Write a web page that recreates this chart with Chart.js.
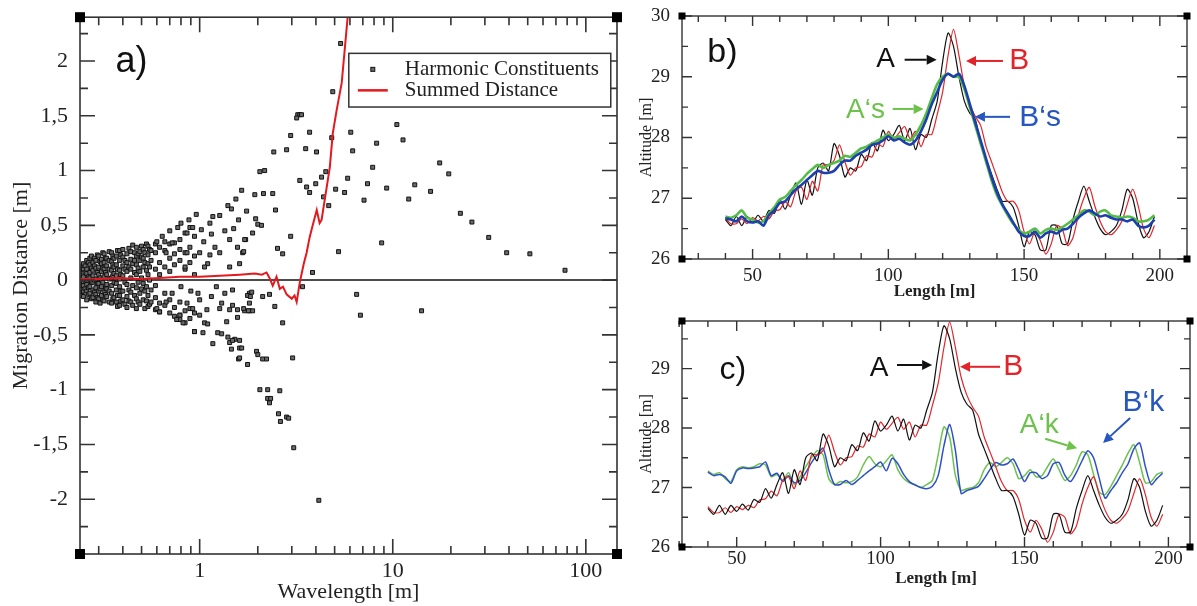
<!DOCTYPE html>
<html>
<head>
<meta charset="utf-8">
<script src="https://cdn.jsdelivr.net/npm/chart.js@4.4.1/dist/chart.umd.min.js"></script>
<style>
  body { margin: 0; background: #fff; overflow: hidden; }
  .panel { position: absolute; }
</style>
</head>
<body>
<div class="panel" style="left:0;top:0"><canvas id="chartA" width="625" height="606"></canvas></div>
<div class="panel" style="left:625px;top:0"><canvas id="chartB" width="572" height="300"></canvas></div>
<div class="panel" style="left:625px;top:300px"><canvas id="chartC" width="572" height="306"></canvas></div>
<script>
// ---- panel a) : harmonic constituents [wavelength m, migration m]
const harmonicPoints = [
  [0.24,0.12],[0.24,0.05],[0.24,-0.02],[0.24,-0.08],[0.24,0.08],[0.24,-0.12],[0.24,0.0],
  [0.245,0.1],[0.245,-0.05],[0.245,0.02],[0.245,-0.14],
  [0.25,0.15],[0.25,0.03],[0.25,-0.05],[0.25,-0.15],[0.25,0.1],[0.25,-0.1],
  [0.255,0.07],[0.255,-0.08],[0.255,0.13],[0.255,-0.01],
  [0.26,0.1],[0.26,0.0],[0.26,-0.1],[0.26,0.06],[0.26,-0.04],[0.26,0.18],[0.26,-0.18],
  [0.265,0.16],[0.265,-0.13],[0.265,0.03],[0.265,-0.07],
  [0.27,0.14],[0.27,-0.06],[0.27,0.02],[0.27,-0.12],[0.27,0.2],[0.27,0.07],
  [0.275,0.11],[0.275,-0.17],[0.275,-0.02],[0.275,0.22],
  [0.28,0.09],[0.28,-0.02],[0.28,-0.16],[0.28,0.16],[0.28,0.04],[0.28,-0.09],
  [0.285,0.2],[0.285,-0.11],[0.285,0.0],[0.285,0.13],
  [0.29,0.18],[0.29,0.01],[0.29,-0.07],[0.29,0.11],[0.29,-0.13],[0.29,-0.2],
  [0.295,0.07],[0.295,-0.16],[0.295,0.23],[0.295,-0.03],
  [0.30,0.12],[0.30,-0.03],[0.30,0.22],[0.30,-0.1],[0.30,0.05],[0.30,-0.17],
  [0.305,0.17],[0.305,-0.08],[0.305,0.02],[0.305,-0.21],
  [0.31,0.15],[0.31,0.0],[0.31,-0.06],[0.31,0.08],[0.31,-0.14],[0.31,0.19],
  [0.315,0.11],[0.315,-0.18],[0.315,0.25],[0.315,-0.02],
  [0.32,0.1],[0.32,-0.11],[0.32,0.03],[0.32,0.24],[0.32,-0.19],[0.32,0.16],
  [0.325,0.07],[0.325,-0.07],[0.325,0.2],[0.325,-0.13],
  [0.33,0.05],[0.33,-0.04],[0.33,0.13],[0.33,-0.15],[0.33,0.2],[0.33,-0.08],
  [0.34,0.18],[0.34,-0.1],[0.34,0.01],[0.34,0.26],[0.34,-0.2],[0.34,0.1],
  [0.35,0.17],[0.35,0.02],[0.35,-0.12],[0.35,0.09],[0.35,-0.21],[0.35,0.25],[0.35,-0.05],
  [0.355,0.14],[0.355,-0.17],[0.355,0.04],[0.355,0.22],
  [0.36,0.12],[0.36,-0.02],[0.36,0.2],[0.36,-0.16],[0.36,0.06],
  [0.37,0.22],[0.37,0.04],[0.37,-0.09],[0.37,0.14],[0.37,-0.2],[0.37,-0.03],
  [0.375,0.27],[0.375,0.1],[0.375,-0.14],[0.375,-0.24],
  [0.385,0.18],[0.385,-0.06],[0.385,0.09],[0.385,0.27],[0.385,-0.14],[0.385,0.01],[0.385,-0.23],
  [0.39,0.23],[0.39,0.05],[0.39,-0.1],[0.39,-0.19],
  [0.40,0.13],[0.40,0.21],[0.40,-0.1],[0.40,0.04],[0.40,-0.18],[0.40,0.28],
  [0.41,0.18],[0.41,-0.02],[0.41,-0.22],[0.41,0.1],
  [0.42,0.24],[0.42,0.08],[0.42,-0.04],[0.42,-0.15],[0.42,0.16],[0.42,-0.25],
  [0.43,0.29],[0.43,0.12],[0.43,-0.09],[0.43,-0.19],
  [0.44,0.19],[0.44,0.02],[0.44,-0.11],[0.44,0.26],[0.44,-0.2],[0.44,0.1],
  [0.45,0.15],[0.45,-0.05],[0.45,0.32],[0.45,-0.23],
  [0.46,0.25],[0.46,0.07],[0.46,-0.14],[0.46,0.18],
  [0.47,0.22],[0.47,-0.07],[0.47,0.14],[0.47,0.3],[0.47,-0.17],[0.47,0.05],[0.47,-0.26],
  [0.48,0.11],[0.48,-0.02],[0.48,0.24],[0.48,-0.2],
  [0.49,0.18],[0.49,0.26],[0.49,-0.12],[0.49,0.08],[0.49,-0.22],
  [0.50,0.21],[0.50,0.02],[0.50,-0.08],[0.50,0.31],
  [0.51,0.12],[0.51,0.28],[0.51,-0.03],[0.51,-0.18],[0.51,0.2],
  [0.52,0.16],[0.52,-0.1],[0.52,0.25],[0.52,-0.26],
  [0.53,0.09],[0.53,-0.06],[0.53,0.33],[0.53,-0.19],
  [0.54,0.23],[0.54,0.05],[0.54,-0.14],[0.54,0.31],[0.54,-0.24],[0.54,0.15],
  [0.55,0.28],[0.55,0.0],[0.55,-0.22],[0.55,0.12],
  [0.56,0.18],[0.56,-0.09],[0.56,0.27],[0.56,-0.2],
  [0.59,0.25],[0.59,0.1],[0.59,-0.16],[0.59,0.33],[0.59,-0.27],[0.59,-0.05],
  [0.62,0.3],[0.62,0.16],[0.62,-0.21],[0.62,0.05],[0.62,-0.29],
  [0.66,0.27],[0.66,-0.12],[0.66,0.35],[0.66,-0.23],[0.66,0.12],
  [0.70,0.33],[0.70,0.2],[0.70,-0.18],[0.70,-0.3],[0.70,0.08],
  [0.74,0.34],[0.74,0.24],[0.74,-0.25],[0.74,-0.33],[0.74,0.14],
  [0.79,0.37],[0.79,0.28],[0.79,-0.2],[0.79,-0.32],[0.79,0.18],[0.79,-0.36],
  [0.84,0.43],[0.84,0.25],[0.84,-0.28],[0.84,-0.39],[0.84,0.1],
  [0.89,0.48],[0.89,0.3],[0.89,-0.26],[0.89,-0.35],[0.89,0.16],
  [0.94,0.4],[0.94,0.22],[0.94,-0.47],[0.94,-0.3],[0.94,0.05],
  [0.6,0.35],[0.64,0.4],[0.7,0.45],[0.77,0.48],[0.8,0.52],[0.88,0.55],[0.96,0.6],
  [1.05,0.35],[1.15,0.42],[1.2,0.3],[1.35,0.45],[1.5,0.47],[1.1,0.15],
  [0.98,-0.12],[1.15,-0.15],[1.35,-0.12],[0.72,-0.12],[0.8,-0.06],[0.9,-0.1],
  [1.02,0.46],[0.92,0.48],[0.86,0.43],[1.13,0.52],[1.27,0.59],[1.17,0.58],[1.40,0.68],
  [1.46,0.65],[1.54,0.74],[1.65,0.82],[1.93,0.78],[2.14,0.79],[2.39,0.79],[2.05,0.99],
  [2.17,1.0],[2.42,1.17],[2.82,1.19],[2.96,1.32],[3.22,1.51],[3.30,1.51],[3.37,1.51],
  [3.18,1.48],[3.71,1.35],[3.54,1.2],[4.03,1.17],[3.30,0.91],[3.58,0.85],[3.71,0.8],
  [3.99,0.88],[2.47,0.64],[1.75,0.63],[1.59,0.55],[1.95,0.56],[2.0,0.51],[2.09,0.5],
  [2.96,0.4],[2.53,0.29],[2.69,0.24],[1.67,0.25],[3.84,0.07],[1.43,0.37],[1.57,0.3],
  [1.73,0.37],[1.13,0.23],[1.0,0.25],[1.27,0.25],[0.86,0.25],[0.67,0.25],[0.72,0.34],
  [1.88,0.43],[1.71,0.37],[1.69,0.26],[0.84,0.12],[1.06,0.12],[1.22,-0.06],[1.48,-0.09],
  [1.81,-0.12],[1.43,0.12],[1.61,0.15],
  [5.37,2.16],[4.89,1.72],[4.83,1.3],[6.06,1.35],[6.2,1.18],[10.5,1.42],[11.3,1.28],
  [8.25,1.25],[7.87,1.03],[7.4,0.88],[7.1,0.73],[9.3,0.84],[13.0,0.87],[12.1,0.74],
  [15.7,0.81],[17.5,1.07],[19.5,0.97],[22.4,0.61],[25.7,0.53],[31.4,0.39],[38.9,0.25],
  [51.3,0.24],[78,0.09],[8.76,0.34],[5.24,0.26],[5.84,0.93],[5.63,0.8],[5.06,0.83],
  [4.5,0.99],[4.28,0.94],[4.38,0.76],[4.66,0.68],[3.41,-0.06],[6.5,-0.13],[6.8,-0.32],
  [14.1,-0.28],[4.14,-2.01],
  [3.07,-1.53],[2.56,-1.22],[2.62,-1.29],[2.82,-1.25],[2.89,-1.26],[2.05,-1.0],[2.25,-1.0],
  [2.6,-1.01],[2.25,-1.08],[2.33,-1.08],[2.3,-1.12],[3.03,-0.71],[1.97,-0.65],[2.0,-0.68],
  [2.12,-0.72],[2.22,-0.72],[1.77,-0.77],[1.59,-0.72],[1.61,-0.62],[1.46,-0.63],[1.52,-0.54],
  [1.61,-0.55],[1.17,-0.58],[0.94,-0.47],[1.04,-0.48],[1.06,-0.39],[1.1,-0.4],[1.24,-0.48],
  [1.3,-0.49],[1.4,-0.52],[1.43,-0.57],[1.48,-0.55],[1.38,-0.38],[1.57,-0.34],[1.57,-0.27],
  [1.71,-0.28],[1.81,-0.28],[2.45,-0.24],[2.69,-0.39],[0.76,-0.36],[0.82,-0.39],[0.79,-0.32],
  [1.0,-0.32],[1.09,-0.27],[1.27,-0.26],[1.43,-0.27],[1.48,-0.23],[1.3,-0.21],[0.86,-0.21],
  [0.92,-0.26],[1.0,-0.18],[0.67,-0.2],[0.6,-0.26],[0.62,-0.29],[1.81,-0.21],[1.77,-0.14],
  [2.12,-0.15],[2.3,-0.13],[1.86,-0.11],[1.83,-0.15],[1.69,-0.26],[1.79,-0.28],[1.88,-0.28],
  [1.65,-0.62],[1.61,-0.71]
];

const summedWavelength = [0.24,0.3,0.38,0.49,0.62,0.79,1.0,1.27,1.61,1.93,2.1,2.22,2.3,2.39,2.5,2.6,2.7,2.82,
  3.0,3.1,3.18,3.3,3.46,3.58,3.71,3.85,4.04,4.18,4.28,4.44,4.72,4.89,5.12,5.44,5.84,6.13];
const summedDistance = [0.01,0.01,0.02,0.01,0.02,0.03,0.03,0.04,0.05,0.06,0.05,0.07,0.02,-0.05,0.03,-0.08,-0.06,-0.13,
  -0.17,-0.14,-0.2,-0.02,0.15,0.25,0.39,0.5,0.64,0.52,0.55,0.73,1.03,1.34,1.55,1.8,2.4,2.7];

const wavelengthTicks = [1, 10, 100];
const wavelengthMinor = [0.3,0.4,0.5,0.6,0.7,0.8,0.9,2,3,4,5,6,7,8,9,20,30,40,50,60,70,80,90];
const migrationTicks = [-2, -1.5, -1, -0.5, 0, 0.5, 1, 1.5, 2];
const migrationMinor = [-2.25,-1.75,-1.25,-0.75,-0.25,0.25,0.75,1.25,1.75,2.25];

// ---- panels b) and c) : altitude profiles along the length
const lengthM = [40,42,44,46,48,50,52,54,56,58,
  60,62,64,66,68,70,72,74,76,78,
  80,82,84,86,88,90,92,94,96,98,
  100,102,104,106,108,110,112,114,116,118,
  120,122,124,126,128,130,132,134,136,138,
  140,142,144,146,148,150,152,154,156,158,
  160,162,164,166,168,170,172,174,176,178,
  180,182,184,186,188,190,192,194,196,198];

const profileA = [26.65,26.55,26.70,26.55,26.70,26.60,26.72,26.62,26.80,26.75,
  26.98,26.82,27.05,27.25,26.90,27.30,27.05,27.50,27.58,27.45,
  27.90,27.70,27.35,27.50,27.45,27.72,27.62,27.92,27.78,28.12,
  27.95,28.05,28.20,27.95,28.15,27.80,28.05,28.00,28.30,28.60,
  29.25,29.72,29.50,29.00,28.60,28.40,28.30,27.90,27.65,27.40,
  27.15,26.95,26.95,26.85,26.55,26.20,26.45,26.40,26.15,26.15,
  26.55,26.55,26.25,26.25,26.65,26.95,27.20,26.95,26.70,26.50,
  26.40,26.45,26.55,26.80,27.15,27.00,26.60,26.35,26.45,26.70];

const profileB = [26.68,26.58,26.58,26.66,26.58,26.68,26.63,26.70,26.66,26.79,
  26.81,26.94,26.86,27.12,27.18,26.98,27.28,27.12,27.55,27.55,
  27.62,27.88,27.60,27.38,27.50,27.52,27.70,27.68,27.90,27.85,
  28.10,27.98,28.08,28.18,27.98,28.10,27.85,28.05,28.05,28.38,
  28.75,29.35,29.78,29.35,28.85,28.55,28.35,28.20,27.85,27.60,
  27.35,27.10,26.95,26.95,26.80,26.45,26.25,26.45,26.30,26.08,
  26.25,26.55,26.50,26.22,26.35,26.72,27.00,27.18,26.88,26.62,
  26.45,26.40,26.48,26.62,26.90,27.15,26.88,26.50,26.35,26.55];

const smoothA = [26.70,26.68,26.72,26.80,26.68,26.65,26.60,26.62,26.75,26.85,
  26.98,27.02,27.12,27.22,27.30,27.40,27.48,27.55,27.50,27.55,
  27.58,27.62,27.70,27.68,27.75,27.82,27.85,27.90,27.95,28.00,
  28.05,28.00,28.02,27.98,27.95,28.05,28.20,28.40,28.65,28.88,
  29.00,29.05,29.00,29.00,28.80,28.50,28.20,27.90,27.60,27.30,
  27.05,26.88,26.72,26.58,26.48,26.42,26.45,26.50,26.42,26.48,
  26.50,26.48,26.52,26.58,26.65,26.72,26.80,26.78,26.72,26.78,
  26.80,26.72,26.70,26.68,26.70,26.68,26.62,26.62,26.65,26.72];

const smoothB = [26.67,26.65,26.62,26.70,26.62,26.60,26.62,26.55,26.72,26.80,
  26.92,26.95,27.05,27.15,27.22,27.30,27.38,27.45,27.42,27.42,
  27.45,27.55,27.62,27.62,27.70,27.75,27.80,27.88,27.90,27.95,
  28.02,27.95,27.98,27.92,27.88,27.95,28.10,28.30,28.55,28.75,
  28.95,29.05,29.00,29.05,28.85,28.55,28.25,27.95,27.65,27.35,
  27.10,26.90,26.75,26.60,26.45,26.38,26.38,26.45,26.35,26.42,
  26.45,26.42,26.48,26.50,26.58,26.68,26.75,26.80,26.75,26.70,
  26.72,26.68,26.65,26.65,26.62,26.65,26.55,26.52,26.55,26.65];

const kineticA = [27.28,27.22,27.25,27.15,27.10,27.30,27.35,27.33,27.35,27.40,
  27.38,27.18,27.22,27.12,27.25,27.05,27.18,27.35,27.50,27.62,
  27.55,27.15,27.05,27.10,27.08,27.10,27.18,27.38,27.52,27.40,
  27.35,27.45,27.55,27.30,27.15,27.08,27.05,27.00,27.05,27.12,
  27.55,28.02,27.85,27.20,26.95,26.98,27.00,27.08,27.30,27.42,
  27.35,27.42,27.50,27.40,27.15,27.20,27.30,27.18,27.20,27.35,
  27.48,27.30,27.12,27.20,27.38,27.60,27.55,27.22,26.92,26.88,
  27.02,27.20,27.38,27.58,27.72,27.42,27.08,27.10,27.22,27.26];

const kineticB = [27.26,27.20,27.22,27.18,27.07,27.28,27.33,27.32,27.33,27.35,
  27.43,27.20,27.24,27.10,27.20,27.08,27.12,27.25,27.42,27.55,
  27.66,27.30,27.05,27.05,27.12,27.05,27.12,27.20,27.28,27.35,
  27.43,27.28,27.49,27.40,27.22,27.10,27.04,27.00,26.98,27.02,
  27.20,27.70,28.06,27.62,26.90,26.95,26.98,27.02,27.15,27.30,
  27.42,27.38,27.40,27.48,27.30,27.10,27.25,27.25,27.15,27.20,
  27.40,27.42,27.21,27.10,27.25,27.45,27.62,27.50,27.15,26.82,
  26.95,27.08,27.25,27.40,27.65,27.75,27.35,27.05,27.15,27.24];

const lengthTicks = [50, 100, 150, 200];
const lengthMinor = [30,40,60,70,80,90,110,120,130,140,160,170,180,190];
const altTicksB = [26, 27, 28, 29, 30];
const altMinorB = [26.5, 27.5, 28.5, 29.5];
const altTicksC = [26, 27, 28, 29];
const altMinorC = [26.5, 27.5, 28.5, 29.5];

// ---- helpers
const SERIF = "'Liberation Serif', 'Times New Roman', serif";
const SANS = "'Liberation Sans', Arial, sans-serif";
const pts = (xs, ys) => xs.map((x, i) => ({ x: x, y: ys[i] }));

function frame(o) {
  return {
    id: 'frame',
    beforeDatasetsDraw(chart) {
      if (!o.zeroLine) return;
      const { ctx, chartArea: ca, scales } = chart;
      const py = scales.y.getPixelForValue(0);
      ctx.save();
      ctx.strokeStyle = '#111';
      ctx.lineWidth = 1.5;
      ctx.beginPath(); ctx.moveTo(ca.left, py); ctx.lineTo(ca.right, py); ctx.stroke();
      ctx.restore();
    },
    afterDraw(chart) {
      const { ctx, chartArea: ca, scales } = chart;
      ctx.save();
      ctx.strokeStyle = '#333';
      ctx.lineWidth = o.width;
      ctx.strokeRect(ca.left, ca.top, ca.right - ca.left, ca.bottom - ca.top);
      ctx.beginPath();
      const xt = (vals, len) => vals.forEach(v => {
        const p = scales.x.getPixelForValue(v);
        ctx.moveTo(p, ca.bottom); ctx.lineTo(p, ca.bottom - len);
        ctx.moveTo(p, ca.top); ctx.lineTo(p, ca.top + len);
      });
      const yt = (vals, len) => vals.forEach(v => {
        const p = scales.y.getPixelForValue(v);
        ctx.moveTo(ca.left, p); ctx.lineTo(ca.left + len, p);
        ctx.moveTo(ca.right, p); ctx.lineTo(ca.right - len, p);
      });
      xt(o.xMajor, o.major); xt(o.xMinor, o.minor);
      yt(o.yMajor, o.major); yt(o.yMinor, o.minor);
      ctx.stroke();
      const s = o.corner;
      ctx.fillStyle = '#000';
      [[ca.left, ca.top], [ca.right, ca.top], [ca.left, ca.bottom], [ca.right, ca.bottom]]
        .forEach(([px, py]) => ctx.fillRect(px - s / 2, py - s / 2, s, s));
      ctx.restore();
    }
  };
}

function arrow(ctx, x1, y1, x2, y2, color) {
  const a = Math.atan2(y2 - y1, x2 - x1), h = 10, w = 5;
  const bx = x2 - h * Math.cos(a), by = y2 - h * Math.sin(a);
  ctx.strokeStyle = color; ctx.fillStyle = color; ctx.lineWidth = 2;
  ctx.beginPath(); ctx.moveTo(x1, y1); ctx.lineTo(bx, by); ctx.stroke();
  ctx.beginPath();
  ctx.moveTo(x2, y2);
  ctx.lineTo(bx + w * Math.sin(a), by - w * Math.cos(a));
  ctx.lineTo(bx - w * Math.sin(a), by + w * Math.cos(a));
  ctx.closePath(); ctx.fill();
}

// labels and arrows placed in data coordinates
function annotate(items) {
  return {
    id: 'notes',
    afterDatasetsDraw(chart) {
      const { ctx, scales: { x, y } } = chart;
      ctx.save();
      items.forEach(it => {
        if (it.text) {
          ctx.font = it.font;
          ctx.fillStyle = it.color;
          ctx.textAlign = 'center';
          ctx.textBaseline = 'middle';
          ctx.fillText(it.text, x.getPixelForValue(it.x), y.getPixelForValue(it.y));
        } else {
          arrow(ctx, x.getPixelForValue(it.x1), y.getPixelForValue(it.y1),
            x.getPixelForValue(it.x2), y.getPixelForValue(it.y2), it.color);
        }
      });
      ctx.restore();
    }
  };
}

const legendA = {
  id: 'legendA',
  afterDraw(chart) {
    const { ctx, scales: { x, y }, data } = chart;
    const left = x.getPixelForValue(5.92), right = x.getPixelForValue(134.6);
    const top = y.getPixelForValue(2.07), bottom = y.getPixelForValue(1.58);
    ctx.save();
    ctx.fillStyle = '#fff';
    ctx.fillRect(left, top, right - left, bottom - top);
    ctx.strokeStyle = '#333'; ctx.lineWidth = 1.5;
    ctx.strokeRect(left, top, right - left, bottom - top);
    const r1 = top + 16, r2 = top + 37;
    const scatter = data.datasets[1], line = data.datasets[0];
    ctx.fillStyle = scatter.backgroundColor; ctx.strokeStyle = scatter.borderColor; ctx.lineWidth = 1;
    ctx.fillRect(left + 22, r1 - 2, 4, 4); ctx.strokeRect(left + 22, r1 - 2, 4, 4);
    ctx.strokeStyle = line.borderColor; ctx.lineWidth = 2.5;
    ctx.beginPath(); ctx.moveTo(left + 9, r2); ctx.lineTo(left + 39, r2); ctx.stroke();
    ctx.fillStyle = '#222'; ctx.font = '21px ' + SERIF; ctx.textBaseline = 'middle';
    ctx.fillText(scatter.label, left + 56, r1);
    ctx.fillText(line.label, left + 56, r2);
    ctx.restore();
  }
};

const setTicks = vals => scale => { scale.ticks = vals.map(v => ({ value: v })); };

// ---- chart a)
new Chart(document.getElementById('chartA'), {
  type: 'scatter',
  data: {
    datasets: [
      { label: 'Summed Distance', data: pts(summedWavelength, summedDistance), showLine: true,
        borderColor: '#e3191f', borderWidth: 2, pointRadius: 0, tension: 0 },
      { label: 'Harmonic Constituents', data: harmonicPoints.map(p => ({ x: p[0], y: p[1] })),
        pointStyle: 'rect', pointRadius: 2.8, backgroundColor: '#6a6a6a', borderColor: '#111', borderWidth: 1 }
    ]
  },
  options: {
    responsive: false, animation: false,
    layout: { padding: { top: 16, right: 8, left: 0, bottom: 0 } },
    plugins: { legend: { display: false }, tooltip: { enabled: false } },
    scales: {
      x: {
        type: 'logarithmic', min: 0.24, max: 145,
        grid: { display: false }, border: { display: false },
        afterBuildTicks: setTicks(wavelengthTicks),
        afterFit: s => { s.height = 52; },
        ticks: { autoSkip: false, maxRotation: 0, padding: -4, color: '#222',
          font: { family: SERIF, size: 22 }, callback: v => String(v) },
        title: { display: true, text: 'Wavelength [m]', color: '#222',
          font: { family: SERIF, size: 22 }, padding: { top: 0, bottom: 1 } }
      },
      y: {
        min: -2.5, max: 2.4,
        grid: { display: false }, border: { display: false },
        afterBuildTicks: setTicks(migrationTicks),
        afterFit: s => { s.width = 80; },
        ticks: { padding: 4, color: '#222', font: { family: SERIF, size: 22 },
          callback: v => String(v).replace('.', ',') },
        title: { display: true, text: 'Migration Distance [m]', color: '#222',
          font: { family: SERIF, size: 22 }, padding: { top: 8, bottom: 0 } }
      }
    }
  },
  plugins: [
    frame({ width: 1.6, major: 15, minor: 8, corner: 10, zeroLine: true,
      xMajor: wavelengthTicks, xMinor: wavelengthMinor, yMajor: migrationTicks, yMinor: migrationMinor }),
    annotate([{ text: 'a)', x: 0.444, y: 1.99, color: '#111', font: '36px ' + SANS }]),
    legendA
  ]
});

// ---- charts b) and c)
function profileChart(id, cfg) {
  return new Chart(document.getElementById(id), {
    type: 'scatter',
    data: { datasets: cfg.datasets },
    options: {
      responsive: false, animation: false,
      layout: { padding: cfg.padding },
      plugins: { legend: { display: false }, tooltip: { enabled: false } },
      elements: { point: { radius: 0 }, line: { tension: 0.25 } },
      scales: {
        x: {
          min: cfg.xMin, max: cfg.xMax,
          grid: { display: false }, border: { display: false },
          afterBuildTicks: setTicks(lengthTicks),
          afterFit: s => { s.height = cfg.xHeight; },
          ticks: { autoSkip: false, maxRotation: 0, padding: cfg.tickPad, color: '#222',
            font: { family: SERIF, size: 19 } },
          title: { display: true, text: 'Length [m]', color: '#222',
            font: { family: SERIF, size: 17, weight: 'bold' }, padding: { top: 0, bottom: cfg.titlePad } }
        },
        y: {
          min: 26, max: cfg.yMax,
          grid: { display: false }, border: { display: false },
          afterBuildTicks: setTicks(cfg.yTicks),
          afterFit: s => { s.width = 57; },
          ticks: { padding: 4, color: '#222', font: { family: SERIF, size: 19 } },
          title: { display: true, text: 'Altitude [m]', color: '#222',
            font: { family: SERIF, size: 16 }, padding: { top: 12, bottom: 0 } }
        }
      }
    },
    plugins: [
      frame({ width: 1.4, major: 10, minor: 6, corner: 7, zeroLine: false,
        xMajor: lengthTicks, xMinor: lengthMinor, yMajor: cfg.yTicks, yMinor: cfg.yMinor }),
      annotate(cfg.notes)
    ]
  });
}

const lineDs = (label, ys, color, width) => ({
  label: label, data: pts(lengthM, ys), showLine: true, borderColor: color, borderWidth: width, pointRadius: 0
});

profileChart('chartB', {
  padding: { top: 16, right: 10, left: 0, bottom: 0 },
  xMin: 24, xMax: 210, xHeight: 41, tickPad: -2, titlePad: -2,
  yMax: 30, yTicks: altTicksB, yMinor: altMinorB,
  datasets: [
    lineDs('B\u2018s', smoothB, '#1d3fae', 2.6),
    lineDs('A\u2018s', smoothA, '#55bd45', 2.6),
    lineDs('B', profileB, '#e0262b', 1.2),
    lineDs('A', profileA, '#111111', 1.2)
  ],
  notes: [
    { text: 'b)', x: 38.9, y: 29.39, color: '#111', font: '34px ' + SANS },
    { text: 'A', x: 99, y: 29.28, color: '#111', font: '28px ' + SANS },
    { x1: 106, y1: 29.28, x2: 117.8, y2: 29.28, color: '#111' },
    { text: 'B', x: 148.2, y: 29.26, color: '#e3232a', font: '30px ' + SANS },
    { x1: 142.2, y1: 29.26, x2: 128.6, y2: 29.26, color: '#e3232a' },
    { text: 'A\u2018s', x: 91.6, y: 28.45, color: '#6cc24a', font: '28px ' + SANS },
    { x1: 101.6, y1: 28.47, x2: 113, y2: 28.47, color: '#6cc24a' },
    { text: 'B\u2018s', x: 155.9, y: 28.32, color: '#2656c0', font: '30px ' + SANS },
    { x1: 144.8, y1: 28.34, x2: 131.9, y2: 28.34, color: '#2656c0' }
  ]
});

profileChart('chartC', {
  padding: { top: 21, right: 7, left: 0, bottom: 0 },
  xMin: 31, xMax: 207.5, xHeight: 59, tickPad: -7, titlePad: 17,
  yMax: 29.8, yTicks: altTicksC, yMinor: altMinorC,
  datasets: [
    lineDs('A', profileA, '#111111', 1.2),
    lineDs('B', profileB, '#e0262b', 1.2),
    lineDs('B\u2018k', kineticB, '#2f4fc9', 1.5),
    lineDs('A\u2018k', kineticA, '#6cc24f', 1.5)
  ],
  notes: [
    { text: 'c)', x: 48.7, y: 28.97, color: '#111', font: '32px ' + SANS },
    { text: 'A', x: 99.5, y: 29.0, color: '#111', font: '28px ' + SANS },
    { x1: 105.7, y1: 29.06, x2: 117.9, y2: 29.06, color: '#111' },
    { text: 'B', x: 146.1, y: 29.03, color: '#e3232a', font: '30px ' + SANS },
    { x1: 141.5, y1: 29.03, x2: 127.6, y2: 29.03, color: '#e3232a' },
    { text: 'A\u2018k', x: 155.1, y: 28.05, color: '#6cc24a', font: '28px ' + SANS },
    { x1: 157.2, y1: 27.82, x2: 168.3, y2: 27.66, color: '#6cc24a' },
    { text: 'B\u2018k', x: 191.3, y: 28.42, color: '#2656c0', font: '30px ' + SANS },
    { x1: 186.7, y1: 28.17, x2: 177.3, y2: 27.75, color: '#2656c0' }
  ]
});
</script>
</body>
</html>
